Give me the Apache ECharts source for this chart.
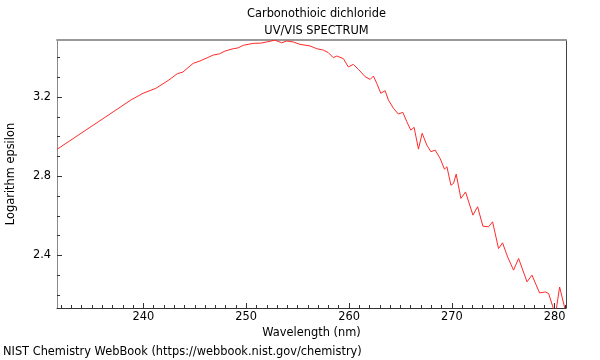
<!DOCTYPE html>
<html>
<head>
<meta charset="utf-8">
<script src="https://cdn.jsdelivr.net/npm/echarts@6/dist/echarts.min.js"></script>
<style>html,body{margin:0;padding:0;background:#fff}#c{width:600px;height:360px}</style>
</head>
<body>
<div id="c"></div>
<script>
var titleText = "Carbonothioic dichloride";
var subTitleText = "UV/VIS SPECTRUM";
var xName = "Wavelength (nm)";
var yName = "Logarithm epsilon";
var footer = "NIST Chemistry WebBook (https://webbook.nist.gov/chemistry)";

var xMajorTicks = [240, 250, 260, 270, 280];
var xMinorTicks = [232,233,234,235,236,237,238,239,241,242,243,244,245,246,247,248,249,251,252,253,254,255,256,257,258,259,261,262,263,264,265,266,267,268,269,271,272,273,274,275,276,277,278,279,281];
var yMajorTicks = [2.4, 2.8, 3.2];
var yMinorTicks = [2.2, 2.3, 2.5, 2.6, 2.7, 2.9, 3.0, 3.1, 3.3, 3.4];

var wavelength = [231.60,233.94,236.34,238.78,239.97,241.21,242.48,243.30,243.84,244.84,245.50,246.20,246.79,247.40,247.93,248.74,249.20,249.71,250.68,251.40,251.99,252.80,253.45,253.94,254.58,255.23,256.21,256.86,257.50,257.99,258.47,258.81,259.45,259.93,260.42,260.91,261.34,261.56,262.05,262.37,262.70,263.09,263.51,263.83,264.32,264.80,265.23,265.62,266.01,266.33,266.75,267.11,267.57,267.96,268.38,268.86,269.28,269.52,269.91,270.16,270.42,270.88,271.33,272.05,272.50,273.02,273.57,273.96,274.54,274.93,275.42,276.00,276.49,277.31,277.79,278.53,279.09,279.41,279.92,280.16,280.48,281.05];
var logEpsilon = [2.936,3.017,3.100,3.185,3.219,3.244,3.286,3.318,3.326,3.370,3.382,3.398,3.412,3.418,3.432,3.444,3.448,3.461,3.471,3.472,3.478,3.487,3.474,3.483,3.478,3.466,3.458,3.444,3.437,3.424,3.399,3.407,3.394,3.352,3.365,3.340,3.316,3.303,3.289,3.306,3.269,3.219,3.232,3.185,3.143,3.114,3.123,3.075,3.033,3.047,2.937,3.017,2.957,2.924,2.932,2.890,2.836,2.848,2.755,2.764,2.811,2.688,2.721,2.604,2.646,2.548,2.545,2.570,2.435,2.464,2.393,2.326,2.385,2.267,2.301,2.211,2.216,2.208,2.125,2.130,2.241,2.120];

var pts = wavelength.map(function (w, i) { return [w, logEpsilon[i]]; });

var X_MIN = 231.6, X_MAX = 281.1, Y_MIN = 2.135, Y_MAX = 3.488;
var FONT = "DejaVu Sans";
var FS = 11.4;
var chart = echarts.init(document.getElementById('c'), null, {renderer: 'canvas'});

function baseX(extra) {
  return Object.assign({
    type: 'value', min: X_MIN, max: X_MAX, gridIndex: 0,
    splitLine: {show: false}, axisLabel: {show: false}, axisTick: {show: false},
    axisLine: {show: false}
  }, extra);
}
function baseY(extra) {
  return Object.assign({
    type: 'value', min: Y_MIN, max: Y_MAX, gridIndex: 0,
    splitLine: {show: false}, axisLabel: {show: false}, axisTick: {show: false},
    axisLine: {show: false}
  }, extra);
}

chart.setOption({
  animation: false,
  backgroundColor: '#fff',
  textStyle: {fontFamily: FONT},
  title: {
    text: titleText + '\n' + subTitleText,
    left: 311.5, top: 1, textAlign: 'center',
    textStyle: {fontFamily: FONT, fontSize: FS, fontWeight: 'normal', color: '#000', lineHeight: 17}
  },
  grid: {left: 57, right: 34, top: 40, bottom: 52, containLabel: false, outerBoundsMode: 'none'},
  xAxis: [
    baseX({
      position: 'bottom',
      name: xName, nameLocation: 'middle', nameGap: 20,
      nameTextStyle: {fontFamily: FONT, fontSize: FS, color: '#000'},
      axisLine: {show: true, onZero: false, lineStyle: {color: '#333', width: 1}},
      axisTick: {show: true, inside: true, length: 5, customValues: xMajorTicks, lineStyle: {color: '#333'}},
      axisLabel: {show: true, customValues: xMajorTicks, margin: 4, fontFamily: FONT, fontSize: FS, color: '#000'}
    }),
    baseX({
      position: 'bottom',
      axisTick: {show: true, inside: true, length: 3, customValues: xMinorTicks, lineStyle: {color: '#333'}}
    }),
    baseX({
      position: 'top',
      axisLine: {show: true, onZero: false, lineStyle: {color: '#999', width: 2}}
    })
  ],
  yAxis: [
    baseY({
      position: 'left',
      name: yName, nameLocation: 'middle', nameGap: 40, nameRotate: 90,
      nameTextStyle: {fontFamily: FONT, fontSize: FS, color: '#000'},
      axisLine: {show: true, onZero: false, lineStyle: {color: '#888', width: 1}},
      axisTick: {show: true, inside: true, length: 5, customValues: yMajorTicks, lineStyle: {color: '#333'}},
      axisLabel: {show: true, customValues: yMajorTicks, margin: 6, fontFamily: FONT, fontSize: FS, color: '#000',
        formatter: function (v) { return v.toFixed(1); }}
    }),
    baseY({
      position: 'left',
      axisTick: {show: true, inside: true, length: 3, customValues: yMinorTicks, lineStyle: {color: '#333'}}
    }),
    baseY({
      position: 'right',
      axisLine: {show: true, onZero: false, lineStyle: {color: '#444', width: 1}}
    })
  ],
  series: [{
    type: 'line',
    xAxisIndex: 0, yAxisIndex: 0,
    data: pts,
    showSymbol: false,
    symbol: 'none',
    clip: true,
    lineStyle: {color: '#ff2a2a', width: 1}
  }],
  graphic: [{
    type: 'text', left: 3, top: 347,
    style: {text: footer, font: FS + 'px "DejaVu Sans"', fill: '#000'}
  }]
});
</script>
</body>
</html>
